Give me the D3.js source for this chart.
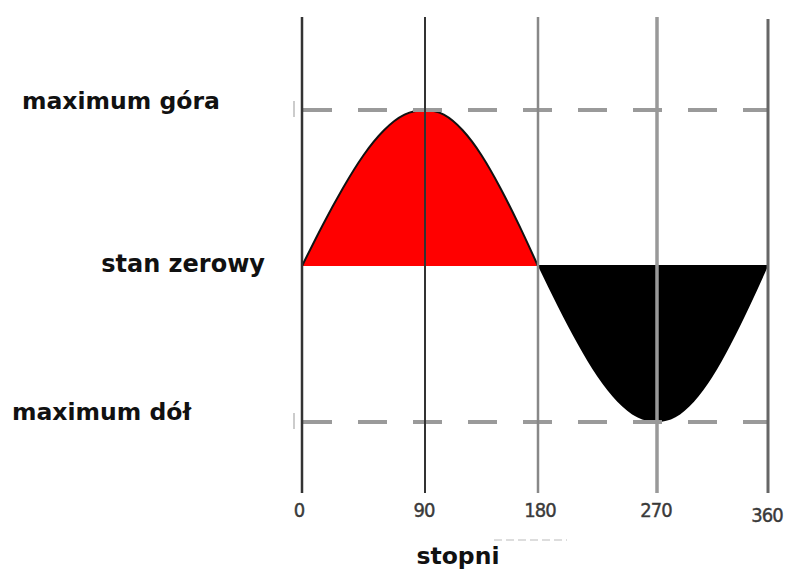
<!DOCTYPE html>
<html>
<head>
<meta charset="utf-8">
<script src="https://cdn.jsdelivr.net/npm/d3@7"></script>
<style>
  body { margin: 0; background: #fff; }
  svg { display: block; }
  text { font-family: "DejaVu Sans", sans-serif; }
</style>
</head>
<body>
<svg id="chart" width="787" height="574"></svg>
<script>
// grid angles (degrees) and tick labels
const angles = [0, 90, 180, 270, 360];
const tickLabels = ["0", "90", "180", "270", "360"];

// waveform, every 15 degrees
const waveAngles = [0, 15, 30, 45, 60, 75, 90, 105, 120, 135, 150, 165, 180,
                    195, 210, 225, 240, 255, 270, 285, 300, 315, 330, 345, 360];
const waveValues = [0, 0.26, 0.5, 0.71, 0.87, 0.97, 1, 0.97, 0.87, 0.71, 0.5, 0.26, 0,
                    -0.26, -0.5, -0.71, -0.87, -0.97, -1, -0.97, -0.87, -0.71, -0.5, -0.26, 0];

// levels with their labels
const levels = [1, 0, -1];
const levelLabels = ["maximum góra", "stan zerowy", "maximum dół"];

const svg = d3.select("#chart");

// the original drawing's columns are not evenly spaced
const x = d3.scaleLinear().domain(angles).range([302, 425, 538, 657, 768]);
const y = d3.scaleLinear().domain([-1, 1]).range([422, 110]);

const wave = waveAngles.map((a, i) => ({ a: a, v: waveValues[i] }));
const upper = wave.filter(d => d.a <= 180);
const lower = wave.filter(d => d.a >= 180);

const area = d3.area()
  .x(d => x(d.a))
  .y0(y(0))
  .y1(d => y(d.v))
  .curve(d3.curveNatural);

svg.append("path").datum(upper).attr("d", area).attr("fill", "#ff0000");
svg.append("path").datum(lower).attr("d", area).attr("fill", "#000");

// outline of the positive half
svg.append("path").datum(upper)
  .attr("d", d3.line().x(d => x(d.a)).y(d => y(d.v)).curve(d3.curveNatural))
  .attr("fill", "none")
  .attr("stroke", "#111")
  .attr("stroke-width", 2);

// zero line across
svg.append("line")
  .attr("x1", x(180)).attr("x2", x(360))
  .attr("y1", y(0)).attr("y2", y(0))
  .attr("stroke", "#000").attr("stroke-width", 2);

// dashed maximum lines
svg.selectAll(".maxline")
  .data([1, -1])
  .enter()
  .append("line")
    .attr("x1", x(0) + 1)
    .attr("x2", x(360))
    .attr("y1", d => y(d))
    .attr("y2", d => y(d))
    .attr("stroke", "#9a9a9a")
    .attr("stroke-width", 4)
    .attr("stroke-dasharray", "29,26");

// small marks left of the dashed lines
svg.selectAll(".mark")
  .data([1, -1])
  .enter()
  .append("line")
    .attr("x1", x(0) - 8).attr("x2", x(0) - 8)
    .attr("y1", d => y(d) - 9).attr("y2", d => y(d) + 7)
    .attr("stroke", "#bbb").attr("stroke-width", 1.5);

// vertical grid lines
const vColors = ["#333", "#333", "#888", "#999", "#666"];
const vWidths = [2.5, 2, 2.5, 3.5, 3];
svg.selectAll(".vline")
  .data(angles)
  .enter()
  .append("line")
    .attr("x1", d => x(d))
    .attr("x2", d => x(d))
    .attr("y1", (d, i) => i == 4 ? 19 : 17)
    .attr("y2", 493)
    .attr("stroke", (d, i) => vColors[i])
    .attr("stroke-width", (d, i) => vWidths[i]);

// tick labels
const tickShift = [-3, -1, 2, -1, -1];
svg.selectAll(".tick")
  .data(angles)
  .enter()
  .append("text")
    .attr("x", (d, i) => x(d) + tickShift[i])
    .attr("y", (d, i) => i == 4 ? 522 : 517)
    .attr("text-anchor", "middle")
    .attr("font-family", "'DejaVu Sans Condensed', 'DejaVu Sans', sans-serif")
    .attr("font-stretch", "condensed")
    .attr("font-size", 20)
    .attr("fill", "#3a3a3a")
    .attr("stroke", "#3a3a3a")
    .attr("stroke-width", 0.4)
    .attr("letter-spacing", -1)
    .text((d, i) => tickLabels[i]);

// level labels
const labelPos = [{ x: 22, anchor: "start", dy: -1 }, { x: 265, anchor: "end", dy: 6 }, { x: 12, anchor: "start", dy: -2 }];
svg.selectAll(".level")
  .data(levels)
  .enter()
  .append("text")
    .attr("x", (d, i) => labelPos[i].x)
    .attr("y", (d, i) => y(d) + labelPos[i].dy)
    .attr("text-anchor", (d, i) => labelPos[i].anchor)
    .attr("font-size", (d, i) => i == 1 ? 24 : 23.5)
    .attr("font-weight", "bold")
    .attr("fill", "#111")
    .text((d, i) => levelLabels[i]);

// axis title
svg.append("text")
  .attr("x", 458)
  .attr("y", 564)
  .attr("text-anchor", "middle")
  .attr("font-size", 23.5)
  .attr("font-weight", "bold")
  .attr("fill", "#111")
  .text("stopni");

// faint stray dash above the title
svg.append("line")
  .attr("x1", 494).attr("x2", 567)
  .attr("y1", 540).attr("y2", 540)
  .attr("stroke", "#bbb").attr("stroke-width", 1)
  .attr("stroke-dasharray", "8,4");
</script>
</body>
</html>
